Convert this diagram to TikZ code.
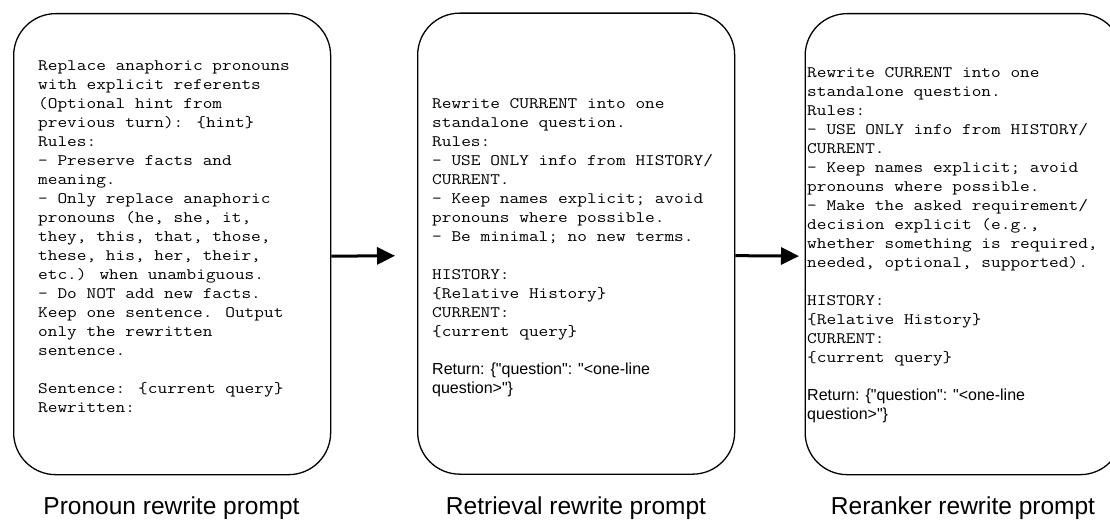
\documentclass[tikz,border=0pt]{standalone}
\usepackage{fontspec}
\setmainfont{Liberation Sans}
\newfontfamily\monof{Latin Modern Mono}[FakeStretch=1.175]
\newfontfamily\sansf{Liberation Sans}
\usetikzlibrary{arrows.meta}
\begin{document}
\begin{tikzpicture}[x=1pt,y=-1pt,
  promptbox/.style={draw, line width=1.3pt, rounded corners=42pt, minimum width=317pt, minimum height=461pt, inner sep=0pt, anchor=north west},
  monotext/.style={font=\monof\fontsize{16pt}{19pt}\selectfont, align=left, anchor=base west, inner sep=0pt},
  sanstext/.style={font=\sansf\fontsize{16pt}{19pt}\selectfont, align=left, anchor=base west, inner sep=0pt},
  caption/.style={font=\sansf\fontsize{24.5pt}{28pt}\selectfont, anchor=base, inner sep=0pt},
  flow/.style={line width=3pt, -{Triangle[length=18pt,width=17pt]}}]
\useasboundingbox[fill=white] (0,0) rectangle (1110,519);

\node[promptbox] (b1) at (13,13) {};
\node[promptbox] (b2) at (417,12.5) {};
\node[promptbox] (b3) at (804.5,13) {};

% base anchor = baseline of the last line
\node[monotext] (t1) at (38,412) {Replace anaphoric pronouns\\with explicit referents\\(Optional hint from\\previous turn): \{hint\}\\Rules:\\- Preserve facts and\\meaning.\\- Only replace anaphoric\\pronouns (he, she, it,\\they, this, that, those,\\these, his, her, their,\\etc.) when unambiguous.\\- Do NOT add new facts.\\Keep one sentence. Output\\only the rewritten\\sentence.\\[19pt]Sentence: \{current query\}\\Rewritten:};

\node[monotext] (t2) at (432,336) {Rewrite CURRENT into one\\standalone question.\\Rules:\\- USE ONLY info from HISTORY/\\CURRENT.\\- Keep names explicit; avoid\\pronouns where possible.\\- Be minimal; no new terms.\\[19pt]HISTORY:\\\{Relative History\}\\CURRENT:\\\{current query\}};
\node[sanstext] (r2) at (432,393) {Return: \{"question": "<one-line\\question>"\}};

\node[monotext] (t3) at (807,362) {Rewrite CURRENT into one\\standalone question.\\Rules:\\- USE ONLY info from HISTORY/\\CURRENT.\\- Keep names explicit; avoid\\pronouns where possible.\\- Make the asked requirement/\\decision explicit (e.g.,\\whether something is required,\\needed, optional, supported).\\[19pt]HISTORY:\\\{Relative History\}\\CURRENT:\\\{current query\}};
\node[sanstext] (r3) at (807,419) {Return: \{"question": "<one-line\\question>"\}};

\node[caption] (c1) at (171.5,514) {Pronoun rewrite prompt};
\node[caption] (c2) at (576,514) {Retrieval rewrite prompt};
\node[caption] (c3) at (963,514) {Reranker rewrite prompt};

\draw[flow, shorten >=22pt] ([yshift=-12pt]b1.east) -- ([yshift=-12pt]b2.west);
\draw[flow, shorten >=5.5pt] ([yshift=-12pt]b2.east) -- ([yshift=-12pt]b3.west);
\end{tikzpicture}
\end{document}
